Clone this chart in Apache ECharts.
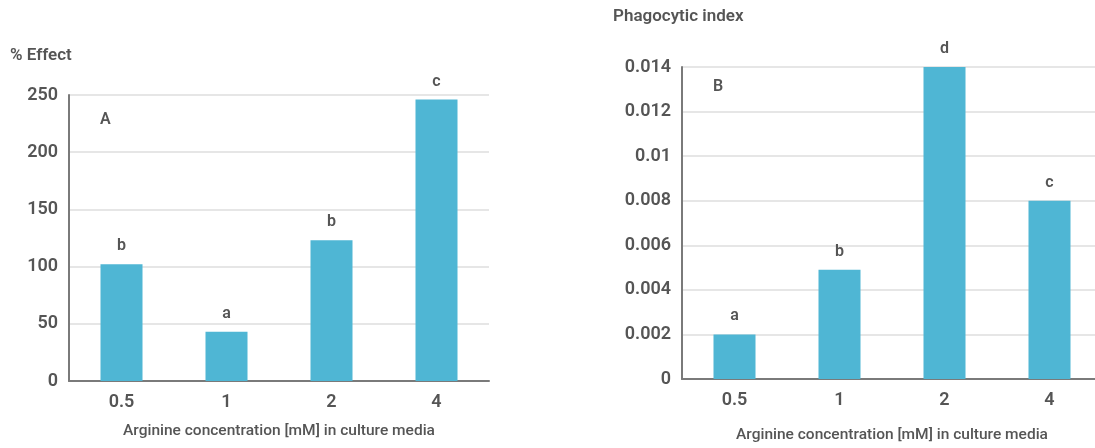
<!DOCTYPE html>
<html>
<head>
<meta charset="utf-8">
<script src="https://cdn.jsdelivr.net/npm/echarts@6/dist/echarts.min.js"></script>
<style>
  html, body { margin: 0; padding: 0; background: #fff; overflow: hidden; }
  /* Panel B's plot area runs past the right edge of the window */
  #chart { width: 1110px; height: 448px; }
</style>
</head>
<body>
<div id="chart"></div>
<script>
// Arginine concentrations in the culture media (mM)
const categories = ['0.5', '1', '2', '4'];

// Panel A: % effect with significance letters
const effectValues = [102, 43, 123, 246];
const effectLetters = ['b', 'a', 'b', 'c'];

// Panel B: phagocytic index with significance letters
const phagoValues = [0.002, 0.0049, 0.014, 0.008];
const phagoLetters = ['a', 'b', 'd', 'c'];

const barColor = '#4fb6d4';
const textColor = '#555555';
const axisColor = '#7a7a7a';
const gridColor = '#dedede';
const fontFamily = 'Roboto, "DejaVu Sans", sans-serif';

function xAxisFor(gridIndex, nameGap) {
  return {
    type: 'category',
    gridIndex: gridIndex,
    data: categories,
    name: 'Arginine concentration [mM] in culture media',
    nameLocation: 'middle',
    nameGap: nameGap,
    nameTextStyle: { color: textColor, fontSize: 15.5, fontWeight: 500, fontFamily: fontFamily },
    axisLine: { lineStyle: { color: axisColor, width: 2 } },
    axisTick: { show: false },
    axisLabel: { color: textColor, fontSize: 18, fontWeight: 600, margin: 12, fontFamily: fontFamily }
  };
}

function yAxisFor(gridIndex, max, interval) {
  return {
    type: 'value',
    gridIndex: gridIndex,
    min: 0,
    max: max,
    interval: interval,
    axisLine: { show: true, lineStyle: { color: axisColor, width: 2 } },
    axisTick: { show: false },
    splitLine: { lineStyle: { color: gridColor, width: 1.5 } },
    axisLabel: { color: textColor, fontSize: 18, fontWeight: 600, margin: 11, fontFamily: fontFamily }
  };
}

function barSeries(axisIndex, values, letters) {
  return {
    type: 'bar',
    xAxisIndex: axisIndex,
    yAxisIndex: axisIndex,
    data: values,
    barWidth: 42,
    itemStyle: { color: barColor },
    label: {
      show: true,
      position: 'top',
      distance: 10,
      color: textColor,
      fontSize: 16,
      fontWeight: 600,
      fontFamily: fontFamily,
      formatter: p => letters[p.dataIndex]
    }
  };
}

const chart = echarts.init(document.getElementById('chart'));
chart.setOption({
  backgroundColor: '#ffffff',
  animation: false,
  grid: [
    { left: 69, width: 420, top: 95, bottom: 67 },
    { left: 682, width: 420, top: 67, bottom: 67 }
  ],
  xAxis: [xAxisFor(0, 42), xAxisFor(1, 48)],
  yAxis: [yAxisFor(0, 250, 50), yAxisFor(1, 0.014, 0.002)],
  graphic: [
    { type: 'text', left: 10, top: 47, style: { text: '% Effect', fill: textColor, font: '600 17px ' + fontFamily } },
    { type: 'text', left: 613, top: 8, style: { text: 'Phagocytic index', fill: textColor, font: '600 17px ' + fontFamily } },
    { type: 'text', left: 100, top: 112, style: { text: 'A', fill: textColor, font: '600 16px ' + fontFamily } },
    { type: 'text', left: 713, top: 79, style: { text: 'B', fill: textColor, font: '600 16px ' + fontFamily } }
  ],
  series: [
    barSeries(0, effectValues, effectLetters),
    barSeries(1, phagoValues, phagoLetters)
  ]
});
</script>
</body>
</html>
